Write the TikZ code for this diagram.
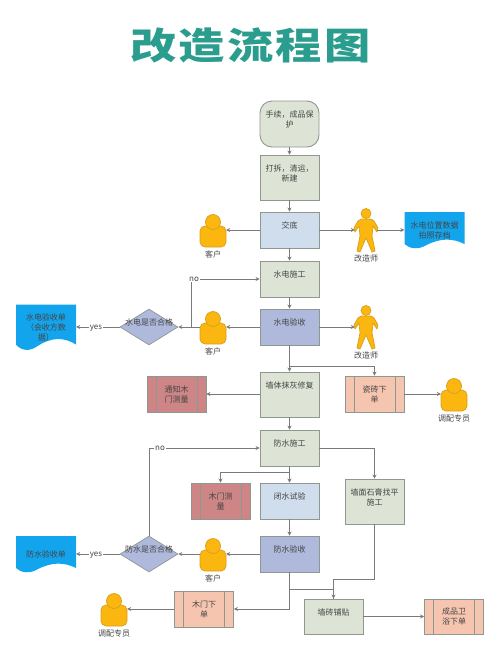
\documentclass[tikz,border=0pt]{standalone}
\usepackage{fontspec}
\setmainfont{Noto Sans CJK SC}
\usepackage{xcolor}
\usetikzlibrary{arrows.meta,shapes.geometric}
\definecolor{titleteal}{HTML}{2A9D8F}
\definecolor{inkgray}{HTML}{454545}
\definecolor{flowgray}{HTML}{7A7A7A}
\definecolor{edgegray}{HTML}{8F9791}
\definecolor{taskgreen}{HTML}{DEE4D5}
\definecolor{paleblue}{HTML}{D0DDEC}
\definecolor{checkblue}{HTML}{AEB9DC}
\definecolor{doorred}{HTML}{CD8585}
\definecolor{orderpink}{HTML}{F6C5AF}
\definecolor{docblue}{HTML}{12A5EE}
\definecolor{manyellow}{HTML}{FBB70F}
\definecolor{manedge}{HTML}{D89F1C}
\tikzset{
  txt/.style={text=inkgray,font=\fontsize{8}{10}\selectfont,align=center,inner sep=0pt},
  plainbox/.style={txt,draw=edgegray,line width=0.9pt,fill=taskgreen,minimum width=59pt},
  taskbox/.style={plainbox,text depth=9pt},
  startbox/.style={taskbox,rounded corners=12pt},
  subbox/.style={plainbox,path picture={
    \draw[edgegray,line width=0.7pt] ([xshift=9pt]path picture bounding box.north west) -- ([xshift=9pt]path picture bounding box.south west);
    \draw[edgegray,line width=0.7pt] ([xshift=-9pt]path picture bounding box.north east) -- ([xshift=-9pt]path picture bounding box.south east);}},
  gate/.style={txt,diamond,draw=edgegray,line width=0.7pt,fill=checkblue,minimum width=58pt,minimum height=36pt,aspect=1.6},
  flow/.style={draw=flowgray,line width=0.8pt,-{Stealth[length=4pt,width=4pt]}},
  branch/.style={draw=flowgray,line width=0.8pt},
  tag/.style={txt,fill=white,inner sep=1pt},
  client/.pic={
    \draw[manedge,fill=manyellow,line width=0.7pt,rounded corners=5pt] (-13,-4) rectangle (13,17);
    \draw[manedge,fill=manyellow,line width=0.7pt] (0,-8) circle[radius=7.5];
    \node[inner sep=0pt,minimum width=26pt,minimum height=21pt] (-box) at (0,0) {};
    \node[txt] (-lbl) at (0,24) {#1};
  },
  designer/.pic={
    \draw[manedge,fill=manyellow,line width=0.7pt,line join=round] (-5,-11) -- (-8,-9) -- (-12,-2) -- (-11,2) -- (-7,-4) -- (-6,6) -- (-9,21) -- (-6,22) -- (0,8)
      -- (6,22) -- (9,21) -- (6,6) -- (7,-4) -- (11,2) -- (12,-2) -- (8,-9) -- (5,-11) -- cycle;
    \draw[manedge,fill=manyellow,line width=0.7pt] (0,-16.5) circle[radius=5];
    \node[inner sep=0pt,minimum width=22pt,minimum height=30pt] (-box) at (0,0) {};
    \node[txt] (-lbl) at (0,28) {#1};
  },
  wavedoc/.pic={
    \fill[docblue] (-30,-18) -- (30,-18) -- (30,14) .. controls (18,8) and (6,8) .. (-8,15) .. controls (-16,20) and (-25,19) .. (-30,14) -- cycle;
    \node[txt,minimum width=60pt,minimum height=30pt] (-box) at (0,0) {#1};
  }
}
\begin{document}
\begin{tikzpicture}[x=1pt,y=-1pt]
\useasboundingbox (0,0) rectangle (500,667);
% Title
\node[text=titleteal,font=\fontsize{37}{40}\selectfont\bfseries,inner sep=0pt] (title) at (250.5,45) {\scalebox{1.25}[1]{\addfontfeature{LetterSpace=5}改造流程图}};

% Main column
\node[startbox,minimum height=46pt] (start) at (289.5,124) {手续，成品保\\护};
\node[taskbox,minimum height=45pt] (demolish) at (289.5,177.5) {打拆，清运，\\新建};
\node[taskbox,fill=paleblue,minimum height=36pt] (handover) at (289.5,230) {交底};
\node[taskbox,minimum height=36pt] (wiring) at (289.5,279) {水电施工};
\node[taskbox,fill=checkblue,minimum height=36pt] (wirecheck) at (289.5,327) {水电验收};
\node[taskbox,minimum height=45pt,text depth=18pt] (plaster) at (289.5,394.5) {墙体抹灰修复};
\node[taskbox,minimum height=36pt] (waterproof) at (289.5,448) {防水施工};
\node[taskbox,fill=paleblue,minimum height=36pt] (leaktest) at (289.5,501) {闭水试验};
\node[taskbox,fill=checkblue,minimum height=36pt] (watercheck) at (289.5,554) {防水验收};

% Side boxes
\node[subbox,fill=doorred,minimum height=36pt] (notifydoor) at (176.5,394) {通知木\\门测量};
\node[subbox,fill=orderpink,minimum height=36pt] (tileorder) at (374.5,394) {瓷砖下\\单};
\node[subbox,fill=doorred,minimum height=36pt] (doormeasure) at (220.5,501) {木门测\\量};
\node[subbox,fill=orderpink,minimum height=36pt] (doororder) at (204,609) {木门下\\单};
\node[subbox,fill=orderpink,minimum height=35pt] (bathorder) at (454,616.5) {成品卫\\浴下单};
\node[taskbox,minimum height=45pt] (levelling) at (374.5,501.5) {墙面石膏找平\\施工};
\node[taskbox,minimum height=35pt] (tiling) at (333.5,616.5) {墙砖铺贴};

% Decisions
\node[gate] (wiregate) at (149,327) {\makebox[0pt]{\smash{\raisebox{1.5pt}{水电是否合格}}}};
\node[gate] (watergate) at (149,554) {\makebox[0pt]{\smash{\raisebox{1.5pt}{防水是否合格}}}};

% People
\pic (clienta) at (213,230) {client=客户};
\pic (clientb) at (213,327) {client=客户};
\pic (clientc) at (213,554) {client=客户};
\pic (fittera) at (454,394) {client=调配专员};
\pic (fitterb) at (114,609) {client=调配专员};
\pic (designa) at (366,230) {designer=改造师};
\pic (designb) at (366,327) {designer=改造师};

% Documents
\pic (photodoc) at (434.5,230) {wavedoc={水电位置数据\\拍照存档}};
\pic[yscale=1.25] (wiredoc) at (46,327) {wavedoc={水电验收单\\（会收方数\\据）}};
\pic (waterdoc) at (46,554) {wavedoc={防水验收单}};

% Branch points
\coordinate (wirefork) at (191,327);
\coordinate (plasterfork) at (289.5,366);
\coordinate (doorfork) at (289.5,472);
\coordinate (tilefork) at (289.5,589);
\coordinate (tilebend) at (333.5,579);

% Arrows down the column
\draw[flow] (start) -- (demolish);
\draw[flow] (demolish) -- (handover);
\draw[flow] (handover) -- (wiring);
\draw[flow] (wiring) -- (wirecheck);
\draw[flow] (wirecheck) -- (plaster);
\draw[flow] (plaster) -- (waterproof);
\draw[flow] (waterproof) -- (leaktest);
\draw[flow] (leaktest) -- (watercheck);

% Arrows to the side
\draw[flow] (handover) -- (clienta-box.east);
\draw[flow] (handover) -- (designa-box.west);
\draw[flow] (designa-box.east) -- (photodoc-box.west);
\draw[flow] (wirecheck) -- (clientb-box.east);
\draw[flow] (wirecheck) -- (designb-box.west);
\draw[flow] (clientb-box.west) -- (wiregate.east);
\draw[flow] (wiregate) -- (wiredoc-box.east);
\draw[flow] (plaster.west |- notifydoor) -- (notifydoor);
\draw[flow] (plasterfork) -| (tileorder.north);
\draw[flow] (tileorder) -- (fittera-box.west);
\draw[flow] (waterproof) -| (levelling.north);
\draw[flow] (doorfork) -| (doormeasure.north);
\draw[flow] (watercheck) -- (clientc-box.east);
\draw[flow] (clientc-box.west) -- (watergate.east);
\draw[flow] (watergate) -- (waterdoc-box.east);
\draw[flow] (watercheck.south) |- (doororder.east);
\draw[flow] (doororder) -- (fitterb-box.east);
\draw[flow] (tiling) -- (bathorder);

% Arrows that join or return
\draw[flow] (wirefork) |- (wiring.west);
\draw[flow] (watergate.north) |- (waterproof.west);
\draw[flow] (levelling.south) |- (tilebend) -- (tiling.north);
\draw[branch] (tilefork) -| (tiling.north);

% Labels on the arrows
\node[tag] (wireno) at (194,279) {no};
\node[tag] (waterno) at (160,448) {no};
\node[tag] (wireyes) at (96,328) {yes};
\node[tag] (wateryes) at (96,555) {yes};
\end{tikzpicture}
\end{document}
